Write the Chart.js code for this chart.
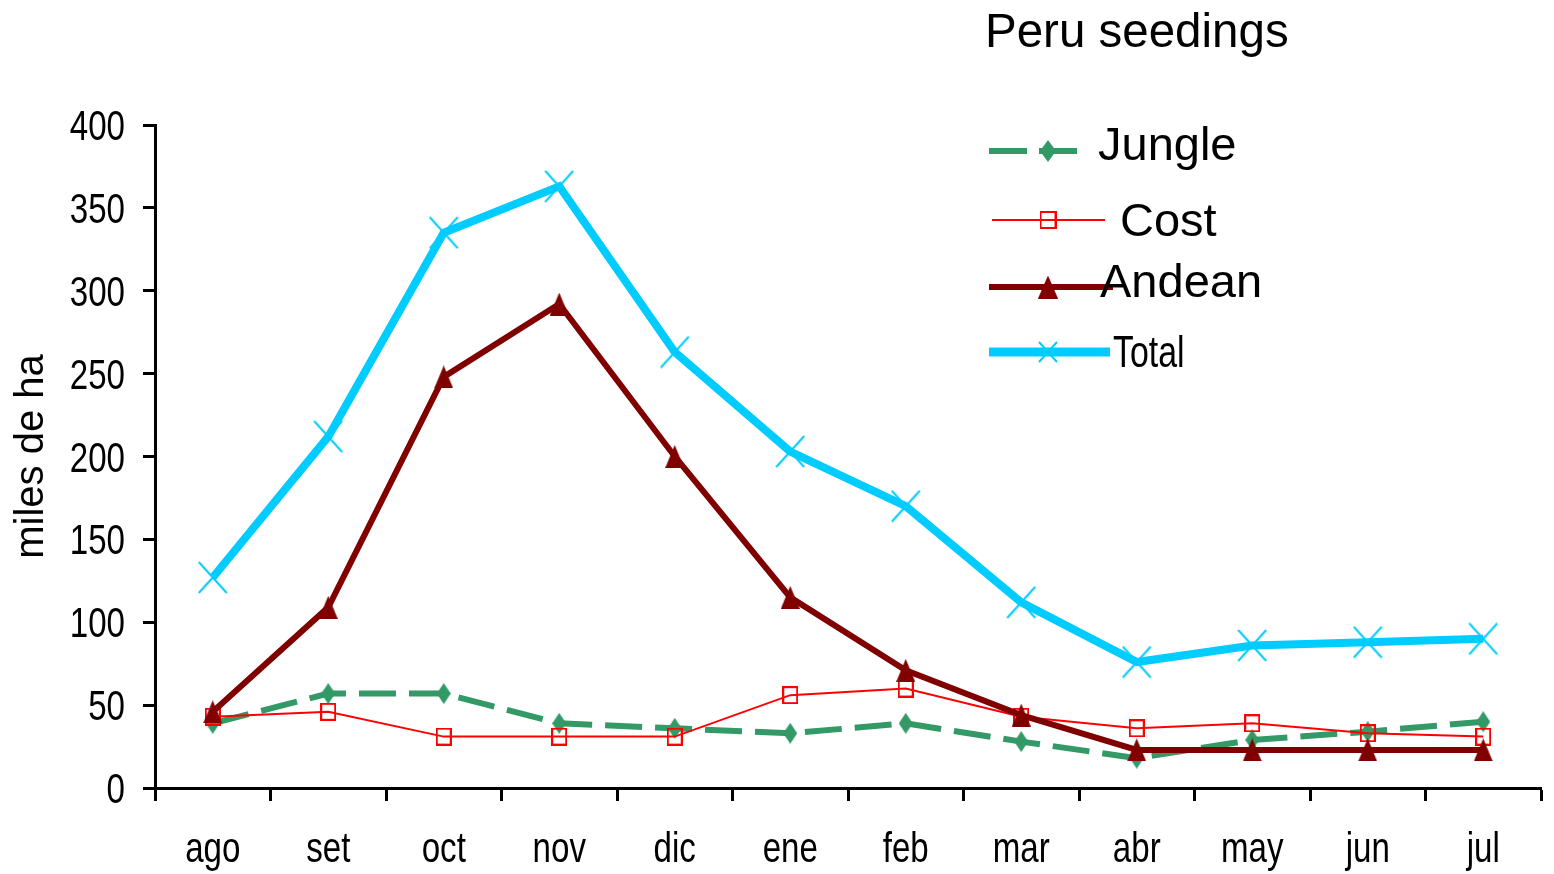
<!DOCTYPE html>
<html>
<head>
<meta charset="utf-8">
<style>
  html, body { margin: 0; padding: 0; background: #fff; }
  #wrap { width: 1554px; height: 874px; }
</style>
<script src="https://cdn.jsdelivr.net/npm/chart.js@4.4.1/dist/chart.umd.min.js"></script>
</head>
<body>
<div id="wrap"><canvas id="c" width="1554" height="874"></canvas></div>
<script>
// ---- data ----
const months = ['ago', 'set', 'oct', 'nov', 'dic', 'ene', 'feb', 'mar', 'abr', 'may', 'jun', 'jul'];
const jungle = [39, 57, 57, 39, 36, 33, 39, 28, 18, 29, 34, 40];
const cost   = [43, 46, 31, 31, 31, 56, 60, 43, 36, 39, 33, 31];
const andean = [46, 109, 248, 292, 200, 115, 71, 44, 23, 23, 23, 23];
const total  = [127, 212, 335, 363, 263, 203, 170, 112, 76, 86, 88, 90];
const yTicks = [0, 50, 100, 150, 200, 250, 300, 350, 400];
const chartTitle = 'Peru seedings';
const yTitle = 'miles de ha';
const seriesNames = ['Jungle', 'Cost', 'Andean', 'Total'];

const GREEN = '#339966', RED = '#ff0000', DARKRED = '#800000', CYAN = '#00ccff';
const SANS = "'Liberation Sans', Arial, sans-serif";
const NARROW_X = 0.77; // horizontal squeeze to imitate a narrow face

function mk(w, h, fn) {
  const c = document.createElement('canvas');
  c.width = w; c.height = h;
  fn(c.getContext('2d'), w, h);
  return c;
}
function diamond(w, h) {
  return mk(w, h, (g) => { g.fillStyle = GREEN; g.beginPath(); g.moveTo(w/2, 0); g.lineTo(w, h/2); g.lineTo(w/2, h); g.lineTo(0, h/2); g.closePath(); g.fill(); });
}
function square(w, h) {
  return mk(w, h, (g) => { g.strokeStyle = RED; g.lineWidth = 2; g.strokeRect(1, 1, w-2, h-2); });
}
function triangle(w, h) {
  return mk(w, h, (g) => { g.fillStyle = DARKRED; g.beginPath(); g.moveTo(w/2, 0); g.lineTo(w, h); g.lineTo(0, h); g.closePath(); g.fill(); });
}
function xmark(w, h) {
  return mk(w, h, (g) => { g.strokeStyle = CYAN; g.lineWidth = 2; g.beginPath(); g.moveTo(1, 1); g.lineTo(w-1, h-1); g.moveTo(w-1, 1); g.lineTo(1, h-1); g.stroke(); });
}

const mJungle = diamond(14, 21), mCost = square(16, 18), mAndean = triangle(19, 23), mTotal = xmark(30, 33);
const lJungle = diamond(16, 22), lCost = square(17, 18), lAndean = triangle(20, 23), lTotal = xmark(20, 22);

function narrowText(g, text, x, y, align, size) {
  g.save();
  g.font = size + 'px ' + SANS;
  g.textAlign = align;
  g.textBaseline = 'alphabetic';
  g.fillStyle = '#000';
  g.scale(NARROW_X, 1);
  g.fillText(text, x / NARROW_X, y);
  g.restore();
}

const overlay = {
  id: 'overlay',
  afterDraw(chart) {
    const g = chart.ctx;
    const xs = chart.scales.x, ys = chart.scales.y;
    // tick labels (narrow face)
    ys.ticks.forEach((t) => {
      narrowText(g, String(t.value), 125, ys.getPixelForValue(t.value) + 15, 'right', 43);
    });
    months.forEach((m, i) => {
      narrowText(g, m, xs.getPixelForValue(i), 862, 'center', 43);
    });

    g.save();
    g.fillStyle = '#000';
    g.textBaseline = 'alphabetic';
    g.textAlign = 'left';
    g.font = '47.5px ' + SANS;
    g.fillText(chartTitle, 985, 47);

    const items = [
      { y: 151, x1: 989, x2: 1088, w: 6, color: GREEN, dash: [38, 12], m: lJungle, tx: 1098, ty: 160, name: seriesNames[0] },
      { y: 220, x1: 992, x2: 1105, w: 2, color: RED, dash: [], m: lCost, tx: 1120, ty: 236, name: seriesNames[1] },
      { y: 287, x1: 989, x2: 1113, w: 6, color: DARKRED, dash: [], m: lAndean, tx: 1100, ty: 297, name: seriesNames[2] },
      { y: 352, x1: 989, x2: 1110, w: 9, color: CYAN, dash: [], m: lTotal, tx: 1113, ty: 367, name: seriesNames[3], narrow: true }
    ];
    items.forEach(it => {
      g.save();
      g.strokeStyle = it.color; g.lineWidth = it.w; g.setLineDash(it.dash);
      g.beginPath(); g.moveTo(it.x1, it.y); g.lineTo(it.x2, it.y); g.stroke();
      g.restore();
      g.drawImage(it.m, 1048 - it.m.width / 2, it.y - it.m.height / 2);
      if (it.narrow) {
        narrowText(g, it.name, it.tx, it.ty, 'left', 44);
      } else {
        g.font = '47px ' + SANS;
        g.fillStyle = '#000';
        g.fillText(it.name, it.tx, it.ty);
      }
    });
    g.restore();
  }
};

new Chart(document.getElementById('c'), {
  type: 'line',
  data: {
    labels: months,
    datasets: [
      { label: seriesNames[0], data: jungle, borderColor: GREEN, borderWidth: 6, borderDash: [37, 13], pointStyle: mJungle, pointRadius: 5, order: 4 },
      { label: seriesNames[1], data: cost, borderColor: RED, borderWidth: 2, pointStyle: mCost, pointRadius: 5, order: 3 },
      { label: seriesNames[2], data: andean, borderColor: DARKRED, borderWidth: 6, pointStyle: mAndean, pointRadius: 5, order: 2 },
      { label: seriesNames[3], data: total, borderColor: CYAN, borderWidth: 8, pointStyle: mTotal, pointRadius: 5, order: 1 }
    ]
  },
  options: {
    responsive: false,
    animation: false,
    devicePixelRatio: 1,
    elements: { line: { tension: 0, fill: false } },
    layout: { padding: { top: 125, right: 9, left: 0, bottom: 0 } },
    plugins: { legend: { display: false }, title: { display: false }, tooltip: { enabled: false } },
    scales: {
      x: {
        offset: true,
        grid: { offset: true, drawOnChartArea: false, drawTicks: true, tickLength: 13, tickWidth: 3, tickColor: '#000' },
        border: { display: true, color: '#000', width: 3 },
        ticks: { display: false, autoSkip: false },
        afterFit: (s) => { s.height = 86; }
      },
      y: {
        min: 0, max: 400,
        afterBuildTicks: (s) => { s.ticks = yTicks.map(v => ({ value: v })); },
        grid: { drawOnChartArea: false, drawTicks: true, tickLength: 12, tickWidth: 3, tickColor: '#000' },
        border: { display: true, color: '#000', width: 3 },
        ticks: { display: false },
        title: { display: true, text: yTitle, color: '#000', font: { family: SANS, size: 40 }, padding: { top: 8, bottom: 0 } },
        afterFit: (s) => { s.width = 155; }
      }
    }
  },
  plugins: [overlay]
});
</script>
</body>
</html>
